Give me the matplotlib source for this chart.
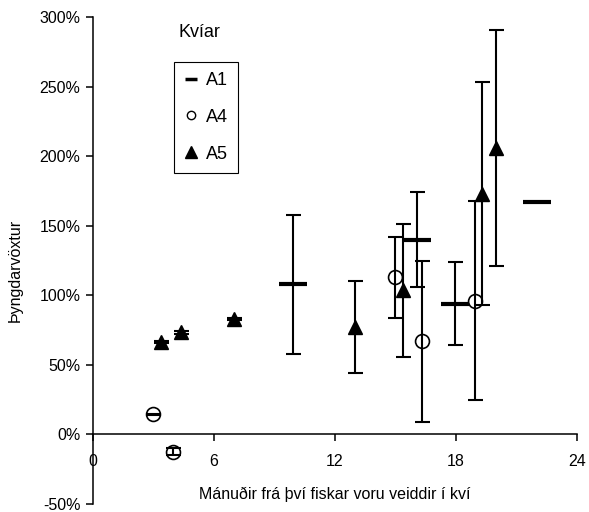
import matplotlib
matplotlib.use("Agg")
import matplotlib.pyplot as plt
from matplotlib.lines import Line2D
from matplotlib.ticker import FuncFormatter

plt.rcParams['font.family'] = ['Liberation Sans', 'DejaVu Sans']

# data (months, growth in %, half error in %)
a1_x = [9.9, 16.05, 17.95, 22.0]
a1_y = [108, 140, 94, 167]
a1_err = [50, 34, 30, 0]

a4_x = [2.98, 3.98, 14.97, 16.3, 18.94]
a4_y = [14.5, -12.5, 113, 67, 96]
a4_err = [0.5, 2.5, 29, 58, 71.5]

a5_x = [3.37, 4.36, 7.0, 13.0, 15.37, 19.3, 20.0]
a5_y = [66.5, 73.5, 83, 77, 103.5, 173, 206]
a5_err = [1, 1, 1, 33, 48, 80, 85]

xticks = [0, 6, 12, 18, 24]
yticks = [-50, 0, 50, 100, 150, 200, 250, 300]

fig = plt.figure(figsize=(5.89, 5.12), dpi=100)
ax = fig.add_axes([93 / 589, 1 - 504 / 512, 484 / 589, 487 / 512])

# markers
ax.plot(a1_x, a1_y, '_', color='black', markersize=20, markeredgewidth=3, zorder=2)
ax.plot(a4_x, a4_y, 'o', markerfacecolor='white', markeredgecolor='black',
        markersize=10, markeredgewidth=1.2, zorder=2)
ax.plot(a5_x, a5_y, '^', color='black', markersize=10, zorder=2)

# error bars on top of the markers
eb = dict(fmt='none', ecolor='black', elinewidth=1.5, capsize=5.4, capthick=1.5, zorder=3)
ax.errorbar(a1_x, a1_y, yerr=a1_err, **eb)
ax.errorbar(a4_x, a4_y, yerr=a4_err, **eb)
ax.errorbar(a5_x, a5_y, yerr=a5_err, **eb)

ax.set_xlim(0, 24)
ax.set_ylim(-50, 300)
ax.set_xticks(xticks)
ax.set_yticks(yticks)
ax.yaxis.set_major_formatter(FuncFormatter(lambda v, p: '%d%%' % v))

ax.spines['top'].set_visible(False)
ax.spines['right'].set_visible(False)
ax.spines['bottom'].set_position(('data', 0))
for s in ['left', 'bottom']:
    ax.spines[s].set_linewidth(1.1)
ax.tick_params(axis='both', direction='out', length=5, width=1.1, labelsize=11.5)
ax.tick_params(axis='x', pad=9)
ax.tick_params(axis='y', pad=4)

ax.set_xlabel('Mánuðir frá því fiskar voru veiddir í kví', fontsize=11.5)
ax.xaxis.set_label_coords(0.5, 0.035)
ax.set_ylabel('Þyngdarvöxtur', fontsize=11.5)
ax.yaxis.set_label_coords(-0.145, 0.48)

ax.text(5.3, 289, 'Kvíar', fontsize=13, ha='center', va='center')

handles = [
    Line2D([], [], color='black', marker='_', linestyle='none', markersize=9, markeredgewidth=2.5),
    Line2D([], [], color='black', marker='o', markerfacecolor='white', linestyle='none', markersize=6),
    Line2D([], [], color='black', marker='^', linestyle='none', markersize=8),
]
leg = ax.legend(handles, ['A1', 'A4', 'A5'], loc='upper left',
                bbox_to_anchor=(174 / 589, 1 - 62 / 512), bbox_transform=fig.transFigure,
                borderaxespad=0, fontsize=13, handlelength=0.8, handletextpad=0.4,
                labelspacing=1.1, borderpad=0.55, fancybox=False, framealpha=1)
leg.get_frame().set_edgecolor('black')
leg.get_frame().set_linewidth(0.8)

fig.savefig('out.png', dpi=100)
